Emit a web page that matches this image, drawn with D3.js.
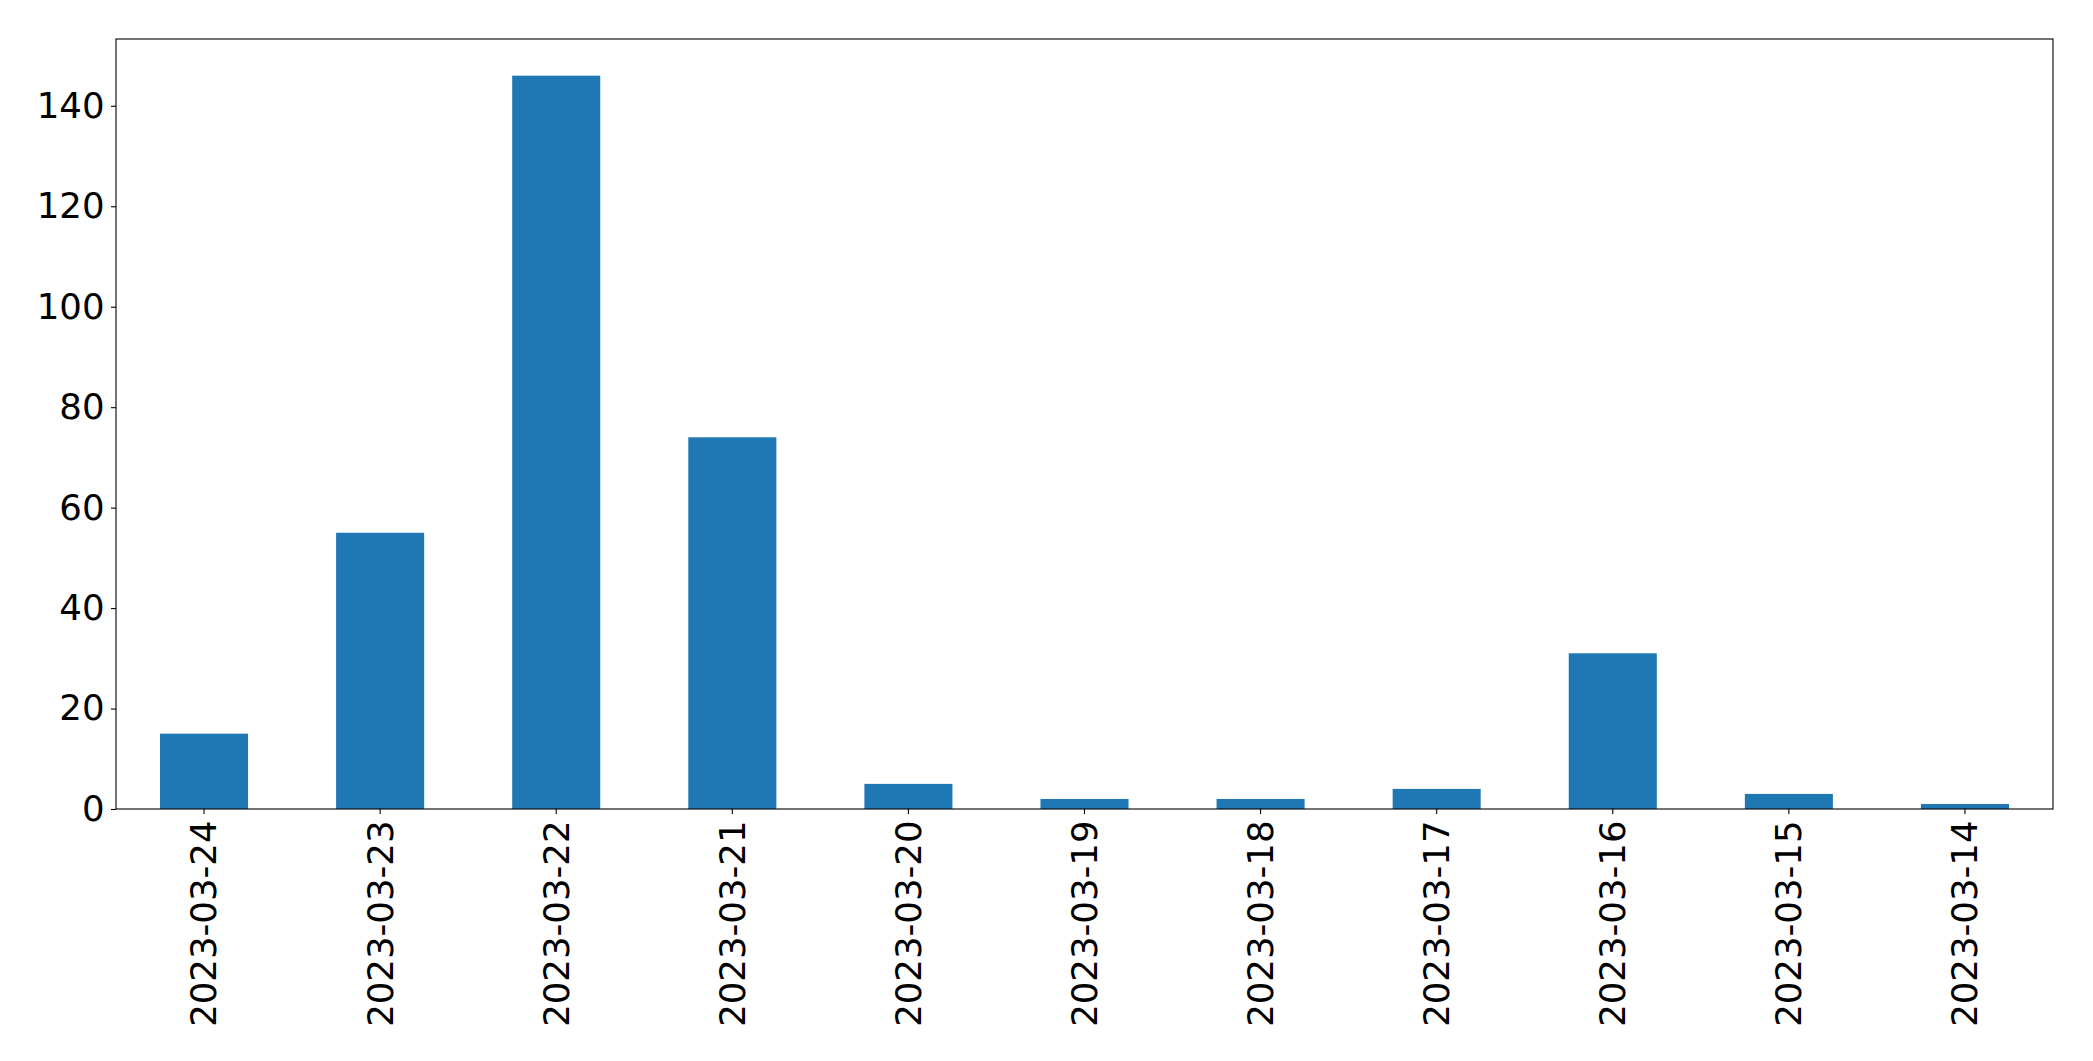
<!DOCTYPE html>
<html>
<head>
<meta charset="utf-8">
<script src="https://cdn.jsdelivr.net/npm/d3@7"></script>
<style>
  html, body { margin: 0; padding: 0; background: #fff; }
  svg { display: block; }
  text { font-family: "DejaVu Sans", sans-serif; fill: #000; }
</style>
</head>
<body>
<svg id="chart" width="2093" height="1061"></svg>
<script>
const categories = ["2023-03-24","2023-03-23","2023-03-22","2023-03-21","2023-03-20","2023-03-19","2023-03-18","2023-03-17","2023-03-16","2023-03-15","2023-03-14"];
const values = [15, 55, 146, 74, 5, 2, 2, 4, 31, 3, 1];
const yTicks = [0, 20, 40, 60, 80, 100, 120, 140];

const W = 2093, H = 1061;
const margin = { left: 116, right: 40, top: 39, bottom: 252 };
const plotW = W - margin.left - margin.right;
const plotH = H - margin.top - margin.bottom;
const fontSize = 35.5;
const tickLen = 5, pad = 6.5;

const svg = d3.select("#chart");
const g = svg.append("g").attr("transform", `translate(${margin.left},${margin.top})`);

const x = d3.scaleBand().domain(categories).range([0, plotW]).paddingInner(0.5).paddingOuter(0.25);
const yMax = d3.max(values) * 1.05;
const y = d3.scaleLinear().domain([0, yMax]).range([plotH, 0]);

g.selectAll("rect.bar").data(values).enter().append("rect")
  .attr("class", "bar")
  .attr("x", (d, i) => x(categories[i]))
  .attr("width", x.bandwidth())
  .attr("y", d => y(d))
  .attr("height", d => y(0) - y(d))
  .attr("fill", "#1f77b4");

// Y axis
const yAxis = d3.axisLeft(y).tickValues(yTicks).tickSize(tickLen).tickPadding(pad);
const yg = g.append("g").call(yAxis);
yg.select(".domain").remove();
yg.selectAll("line").attr("stroke", "#000").attr("stroke-width", 1.1);
yg.selectAll("text").style("font-size", fontSize + "px").style("font-family", "DejaVu Sans");

// X axis
const xAxis = d3.axisBottom(x).tickSize(tickLen).tickPadding(pad);
const xg = g.append("g").attr("transform", `translate(0,${plotH})`).call(xAxis);
xg.select(".domain").remove();
xg.selectAll("line").attr("stroke", "#000").attr("stroke-width", 1.1);
xg.selectAll("text")
  .style("font-size", fontSize + "px").style("font-family", "DejaVu Sans")
  .attr("text-anchor", "end")
  .attr("dy", "0.35em")
  .attr("transform", `translate(0,${tickLen + pad}) rotate(-90)`)
  .attr("x", 0).attr("y", 0);

// Frame
g.append("rect").attr("x", 0).attr("y", 0).attr("width", plotW).attr("height", plotH)
  .attr("fill", "none").attr("stroke", "#000").attr("stroke-width", 1.1);
</script>
</body>
</html>
